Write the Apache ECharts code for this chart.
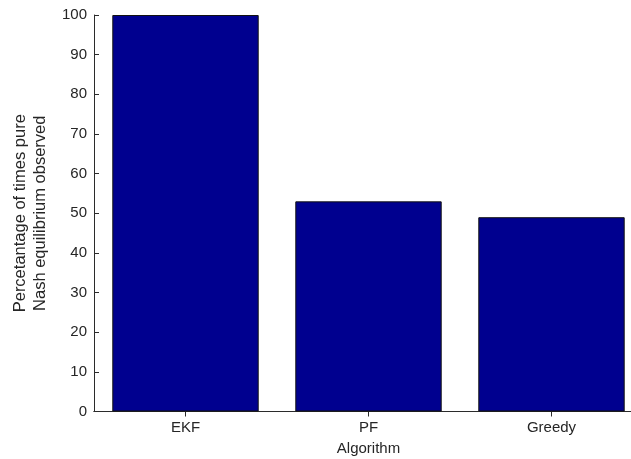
<!DOCTYPE html>
<html>
<head>
<meta charset="utf-8">
<script src="https://cdn.jsdelivr.net/npm/echarts@6/dist/echarts.min.js"></script>
<style>html,body{margin:0;padding:0;background:#fff}#c{width:631px;height:459px}</style>
</head>
<body>
<div id="c"></div>
<script>
var categories = ['EKF', 'PF', 'Greedy'];
var values = [100, 53, 49];
var yTicks = [0, 10, 20, 30, 40, 50, 60, 70, 80, 90, 100];

var chart = echarts.init(document.getElementById('c'), null, {renderer: 'canvas'});
var font = 'Liberation Sans, Arial, sans-serif';
var axisColor = '#2b2b2b';
chart.setOption({
  animation: false,
  backgroundColor: '#ffffff',
  grid: {left: 94, top: 15, width: 549, height: 396.5, show: false, outerBoundsMode: 'none', containLabel: false},
  xAxis: [{
    type: 'category', data: categories, position: 'bottom',
    boundaryGap: true,
    name: 'Algorithm', nameLocation: 'middle', nameGap: 30,
    nameTextStyle: {fontFamily: font, fontSize: 15, color: '#262626'},
    axisLine: {show: true, lineStyle: {color: axisColor, width: 1}},
    axisTick: {show: true, inside: true, alignWithLabel: true, length: 5, lineStyle: {color: axisColor}},
    axisLabel: {fontFamily: font, fontSize: 15, color: '#262626', margin: 9}
  }, {
    type: 'category', data: categories, position: 'top',
    boundaryGap: true,
    axisLine: {show: true, lineStyle: {color: axisColor, width: 1}},
    axisTick: {show: true, inside: true, alignWithLabel: true, length: 5, lineStyle: {color: axisColor}},
    axisLabel: {show: false}
  }],
  yAxis: [{
    type: 'value', min: yTicks[0], max: yTicks[yTicks.length - 1], interval: 10, position: 'left',
    name: 'Percetantage of times pure\nNash equilibrium observed',
    nameLocation: 'middle', nameGap: 44, nameRotate: 90,
    nameTextStyle: {fontFamily: font, fontSize: 16.5, color: '#262626', lineHeight: 20, align: 'center'},
    axisLine: {show: true, lineStyle: {color: axisColor, width: 1}},
    axisTick: {show: true, inside: true, length: 5, lineStyle: {color: axisColor}},
    axisLabel: {fontFamily: font, fontSize: 15, color: '#262626', margin: 7},
    splitLine: {show: false}
  }, {
    type: 'value', min: yTicks[0], max: yTicks[yTicks.length - 1], interval: 10, position: 'right',
    axisLine: {show: true, lineStyle: {color: axisColor, width: 1}},
    axisTick: {show: true, inside: true, length: 5, lineStyle: {color: axisColor}},
    axisLabel: {show: false},
    splitLine: {show: false}
  }],
  series: [{
    type: 'bar', data: values, xAxisIndex: 0, yAxisIndex: 0,
    barWidth: '80%',
    itemStyle: {color: '#00008f', borderColor: '#111', borderWidth: 1}
  }]
});
</script>
</body>
</html>
